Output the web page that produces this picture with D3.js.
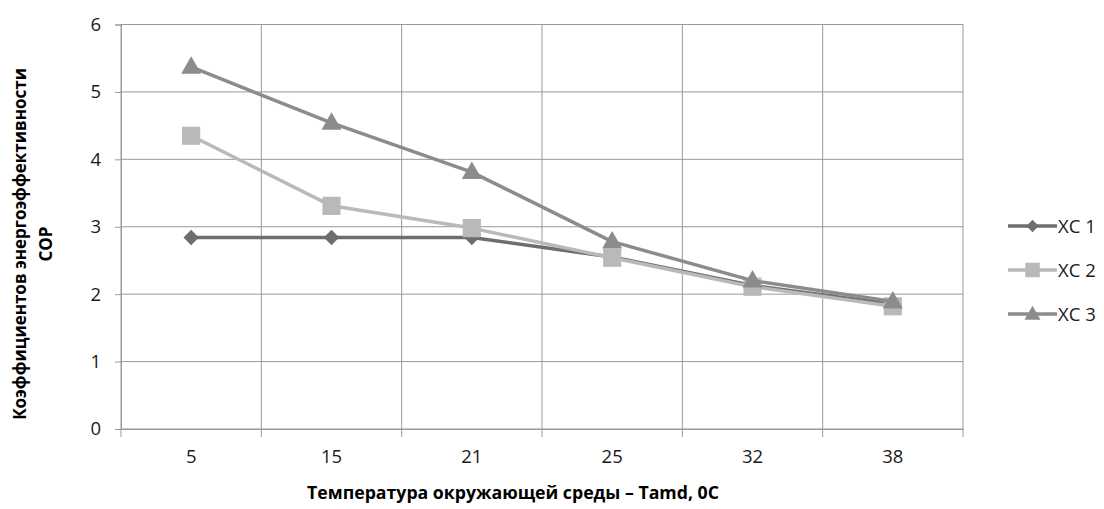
<!DOCTYPE html>
<html>
<head>
<meta charset="utf-8">
<script src="https://cdn.jsdelivr.net/npm/d3@7"></script>
<style>
  html, body { margin: 0; padding: 0; background: #fff; }
  svg { display: block; }
  text { font-family: "Open Sans", sans-serif; fill: #000; }
</style>
</head>
<body>
<svg id="chart" width="1104" height="509"></svg>
<script>
// Ambient temperature categories (°C)
const categories = ["5", "15", "21", "25", "32", "38"];
// COP values for each refrigeration system
const xc1 = [2.84, 2.84, 2.84, 2.55, 2.13, 1.85];
const xc2 = [4.35, 3.31, 2.98, 2.54, 2.11, 1.82];
const xc3 = [5.37, 4.54, 3.81, 2.78, 2.20, 1.89];
const seriesNames = ["ХС 1", "ХС 2", "ХС 3"];
const yTicks = [0, 1, 2, 3, 4, 5, 6];

const series = [
  { name: seriesNames[0], values: xc1, color: "#6e6e6e", marker: "diamond" },
  { name: seriesNames[1], values: xc2, color: "#b9b9b9", marker: "square" },
  { name: seriesNames[2], values: xc3, color: "#8c8c8c", marker: "triangle" }
];

const svg = d3.select("#chart");
const plot = { left: 121, right: 963, top: 24.5, bottom: 429 };

const x = d3.scaleBand().domain(categories).range([plot.left, plot.right]);
const y = d3.scaleLinear().domain([0, 6]).range([plot.bottom, plot.top]);

const gridColor = "#999";
const labelFont = "'Open Sans', sans-serif";

// Horizontal gridlines
svg.append("g").selectAll("line").data(yTicks).join("line")
  .attr("x1", plot.left).attr("x2", plot.right)
  .attr("y1", d => y(d)).attr("y2", d => y(d))
  .attr("stroke", gridColor).attr("stroke-width", 1);

// Vertical gridlines at category boundaries
const bounds = categories.map(c => x(c)).concat([plot.right]);
svg.append("g").selectAll("line").data(bounds).join("line")
  .attr("x1", d => d).attr("x2", d => d)
  .attr("y1", plot.top).attr("y2", plot.bottom + 8)
  .attr("stroke", gridColor).attr("stroke-width", 1);

// Y axis
const yAxis = svg.append("g").attr("transform", `translate(${plot.left},0)`)
  .call(d3.axisLeft(y).tickValues(yTicks).tickSize(6).tickPadding(14).tickFormat(d3.format("d")));
yAxis.select(".domain").attr("stroke", gridColor);
yAxis.selectAll(".tick line").attr("stroke", gridColor);
yAxis.selectAll("text").style("font-size", "18.5px").style("fill", "#1a1a1a")
  .style("font-family", labelFont);

// X axis labels
const xAxis = svg.append("g").attr("transform", `translate(0,${plot.bottom})`)
  .call(d3.axisBottom(x).tickSize(0).tickPadding(21));
xAxis.select(".domain").attr("stroke", gridColor);
xAxis.selectAll("text").style("font-size", "18.5px").style("fill", "#1a1a1a")
  .style("font-family", labelFont);

// Marker shapes
const markerPath = {
  diamond: d3.symbol().type(d3.symbolDiamond2).size(150),
  square: d3.symbol().type(d3.symbolSquare).size(330),
  triangle: d3.symbol().type(d3.symbolTriangle).size(175)
};

const cx = c => x(c) + x.bandwidth() / 2;

const line = d3.line()
  .x((d, i) => cx(categories[i]))
  .y(d => y(d));

series.forEach(s => {
  svg.append("path")
    .datum(s.values)
    .attr("d", line)
    .attr("fill", "none")
    .attr("stroke", s.color)
    .attr("stroke-width", 3.5)
    .attr("stroke-linejoin", "round");
  svg.append("g").selectAll("path").data(s.values).join("path")
    .attr("d", markerPath[s.marker])
    .attr("transform", (d, i) => `translate(${cx(categories[i])},${y(d) + (s.marker === "triangle" ? 1 : 0)})`)
    .attr("fill", s.color);
});

// Legend
const legend = svg.append("g");
const legendY = [226, 270, 314];
series.forEach((s, i) => {
  const g = legend.append("g").attr("transform", `translate(1008,${legendY[i]})`);
  g.append("line").attr("x1", 0).attr("x2", 49).attr("y1", 0).attr("y2", 0)
    .attr("stroke", s.color).attr("stroke-width", 3.5);
  g.append("path").attr("d", markerPath[s.marker])
    .attr("transform", `translate(24.5,${s.marker === "triangle" ? 1 : 0}) scale(0.8)`)
    .attr("fill", s.color);
  g.append("text").attr("x", 50).attr("y", 6.5)
    .style("font-size", "18.5px").style("fill", "#1a1a1a")
    .text(s.name);
});

// Axis titles
svg.append("text")
  .attr("x", 513).attr("y", 499)
  .attr("text-anchor", "middle")
  .style("font-size", "17.7px").style("font-weight", "bold")
  .text("Температура окружающей среды – Tamd, 0С");

const yTitle = svg.append("text")
  .attr("transform", `translate(0,244) rotate(-90)`)
  .attr("text-anchor", "middle")
  .style("font-size", "17px").style("font-weight", "bold");
yTitle.append("tspan").attr("x", 0).attr("y", 26).text("Коэффициентов энергоэффективности");
yTitle.append("tspan").attr("x", 0).attr("y", 52).text("COP");
</script>
</body>
</html>
